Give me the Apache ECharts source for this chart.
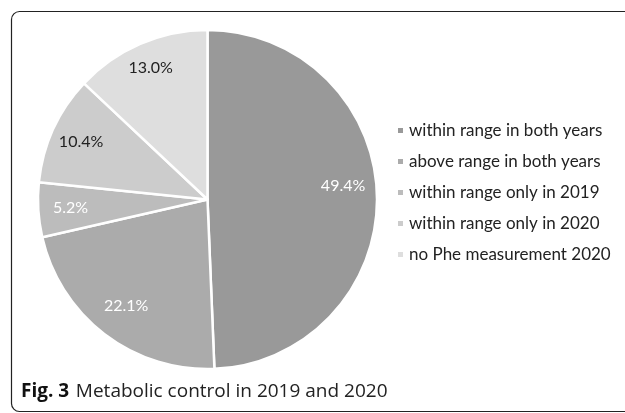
<!DOCTYPE html>
<html>
<head>
<meta charset="utf-8">
<script src="https://cdn.jsdelivr.net/npm/echarts@6/dist/echarts.min.js"></script>
<style>
  html, body { margin: 0; padding: 0; background: #fff; }
  #chart { width: 625px; height: 413px; }
</style>
</head>
<body>
<div id="chart"></div>
<script>
// Metabolic control categories and their shares (%)
const categories = [
  'within range in both years',
  'above range in both years',
  'within range only in 2019',
  'within range only in 2020',
  'no Phe measurement 2020'
];
const shares = [49.4, 22.1, 5.2, 10.4, 13.0];

// Styling per slice
const sliceColors = ['#999999', '#ababab', '#bcbcbc', '#cccccc', '#dedede'];
const labelColors = ['#ffffff', '#ffffff', '#ffffff', '#222222', '#222222'];
// Label distance from the centre as a fraction of the radius, plus a small vertical nudge
const labelRadius = [0.80, 0.79, 0.81, 0.82, 0.845];
const labelNudgeY = [-11, 0, 0, 0, 0];

const chart = echarts.init(document.getElementById('chart'), null, { renderer: 'canvas' });

const pieData = categories.map((name, i) => ({
  name: name,
  value: shares[i],
  itemStyle: { color: sliceColors[i] },
  label: { color: labelColors[i] }
}));

// Put each label along its slice's bisector, using the layout computed by the pie series
function placeLabel(params) {
  const data = chart.getModel().getSeriesByIndex(0).getData();
  const lay = data.getItemLayout(params.dataIndex);
  if (!lay) return {};
  const mid = (lay.startAngle + lay.endAngle) / 2;
  const k = labelRadius[params.dataIndex];
  return {
    x: lay.cx + Math.cos(mid) * lay.r * k,
    y: lay.cy + Math.sin(mid) * lay.r * k + labelNudgeY[params.dataIndex],
    align: 'center',
    verticalAlign: 'middle'
  };
}

chart.setOption({
  animation: false,
  backgroundColor: '#ffffff',
  legend: {
    orient: 'vertical',
    left: 396,
    top: 122,
    padding: 0,
    icon: 'rect',
    itemWidth: 7,
    itemHeight: 7,
    itemGap: 14,
    textStyle: {
      fontFamily: 'Lato',
      fontSize: 17,
      lineHeight: 17,
      color: '#222222'
    },
    data: categories
  },
  series: [{
    type: 'pie',
    center: [207.5, 199.5],
    radius: [0, 169.5],
    startAngle: 90,
    clockwise: true,
    avoidLabelOverlap: false,
    silent: true,
    itemStyle: { borderColor: '#ffffff', borderWidth: 2.5 },
    label: {
      show: true,
      position: 'inside',
      formatter: p => p.value.toFixed(1) + '%',
      fontFamily: 'Lato',
      fontSize: 16
    },
    labelLine: { show: false },
    labelLayout: placeLabel,
    data: pieData
  }],
  graphic: [
    {
      type: 'rect',
      shape: { x: 11.5, y: 11.5, width: 700, height: 400, r: 8 },
      style: { fill: 'none', stroke: '#222222', lineWidth: 1.2 },
      silent: true
    },
    {
      type: 'text',
      left: 21,
      top: 382,
      style: {
        text: '{b|Fig. 3}  {r|Metabolic control in 2019 and 2020}',
        rich: {
          b: { fontFamily: 'Open Sans', fontWeight: 'bold', fontSize: 19, fill: '#111111' },
          r: { fontFamily: 'Open Sans', fontSize: 19, fill: '#222222' }
        }
      },
      silent: true
    }
  ]
});
</script>
</body>
</html>
